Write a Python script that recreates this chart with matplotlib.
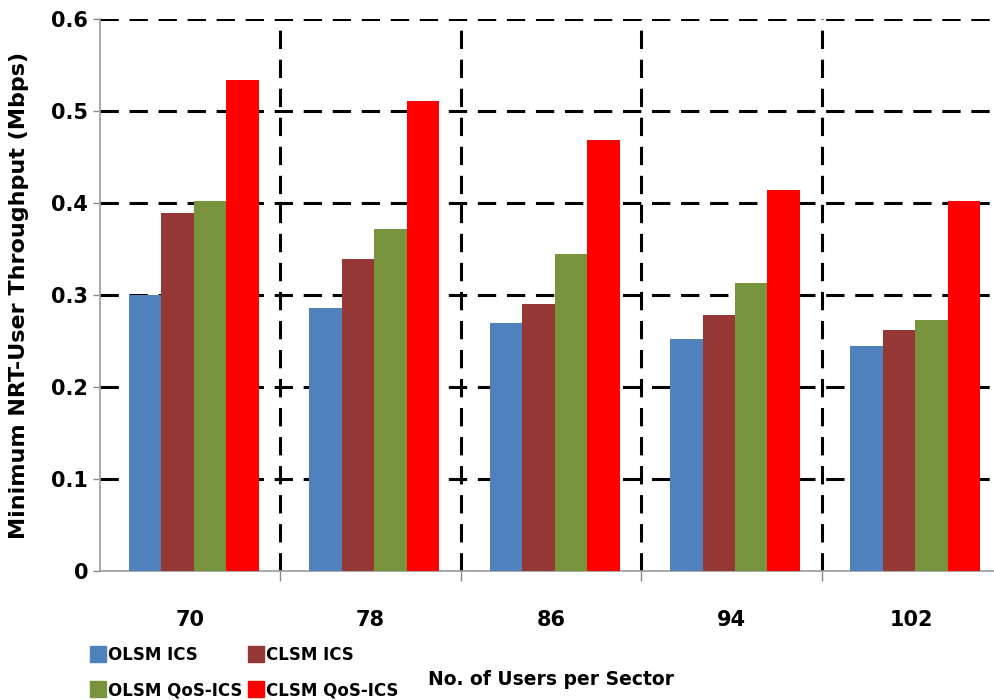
import numpy as np
from matplotlib import pyplot as plt
from matplotlib.lines import Line2D

users = ["70", "78", "86", "94", "102"]
olsm_ics = [0.300, 0.286, 0.270, 0.252, 0.245]
clsm_ics = [0.389, 0.339, 0.290, 0.278, 0.262]
olsm_qos = [0.402, 0.372, 0.345, 0.313, 0.273]
clsm_qos = [0.534, 0.511, 0.468, 0.414, 0.402]

series = [
    ("OLSM ICS", olsm_ics, "#4F81BD"),
    ("CLSM ICS", clsm_ics, "#953735"),
    ("OLSM QoS-ICS", olsm_qos, "#77933C"),
    ("CLSM QoS-ICS", clsm_qos, "#FF0000"),
]

plt.rcParams['font.family'] = ['DejaVu Sans']

fig = plt.figure(figsize=(9.95, 7), dpi=100)
ax = fig.add_axes([0.1005, 0.184, 0.9065, 0.789])

x = np.arange(len(users))
w = 0.18
for i, (name, vals, col) in enumerate(series):
    ax.bar(x + (i - 1.5) * w + 0.02, vals, w, color=col, label=name, zorder=3)

ax.set_xlim(-0.5, len(users) - 0.5)
ax.set_ylim(0, 0.6)
ax.set_yticks(np.arange(0, 0.61, 0.1))
ax.set_yticklabels(["0", "0.1", "0.2", "0.3", "0.4", "0.5", "0.6"],
                   fontsize=15, fontweight="bold")

# category labels sit well below the axis, ticks at boundaries
ax.set_xticks(x)
ax.set_xticklabels(users, fontsize=15, fontweight="bold")
ax.tick_params(axis="x", which="major", length=0, pad=28)
ax.set_xticks(np.arange(0.5, len(users), 1), minor=True)
ax.tick_params(axis="x", which="minor", length=7, color="#888888", width=1)
ax.tick_params(axis="y", length=5, color="#888888", width=1)

for v in np.arange(0.1, 0.61, 0.1):
    ax.axhline(v, color="black", lw=2.2, ls=(0, (6, 3.5)), zorder=2)
for b in np.arange(0.5, len(users), 1):
    ax.axvline(b, color="black", lw=2.2, ls=(0, (6, 3.5)), zorder=2)

for s in ["top", "right"]:
    ax.spines[s].set_visible(False)
ax.spines["left"].set_color("#999999")
ax.spines["bottom"].set_color("#999999")
ax.spines["left"].set_linewidth(1.2)
ax.spines["bottom"].set_linewidth(1.2)

ax.set_ylabel("Minimum NRT-User Throughput (Mbps)", fontsize=16,
              fontweight="bold", labelpad=16)

handles = [Line2D([], [], marker="s", ls="none", markersize=11,
                  color=c) for _, _, c in series]
labels = [n for n, _, _ in series]
order = [0, 2, 1, 3]
fig.legend([handles[k] for k in order], [labels[k] for k in order],
           ncol=2, loc="lower left", bbox_to_anchor=(0.075, -0.02),
           frameon=False, prop={"weight": "bold", "size": 12},
           handletextpad=0.1, columnspacing=0.3, labelspacing=1.05,
           handlelength=1.0)

fig.text(0.554, 0.029, "No. of Users per Sector", fontsize=13.5,
         fontweight="bold", ha="center", va="center")

fig.savefig("out.png", dpi=100)
